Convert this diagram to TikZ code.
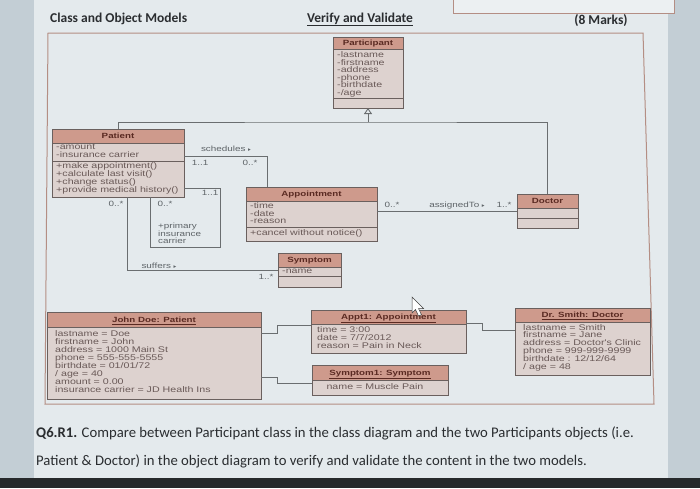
\documentclass[tikz,border=0pt]{standalone}
\usepackage{fontspec}
\setmainfont{Carlito}
\newfontfamily\umlf[FakeStretch=1.3]{Liberation Sans}
\newfontfamily\symf{DejaVu Sans}
\usetikzlibrary{arrows.meta,calc}
\definecolor{pagebg}{HTML}{E4EAED}
\definecolor{stripc}{HTML}{C3CED5}
\definecolor{darkc}{HTML}{26292B}
\definecolor{framec}{HTML}{B48E84}
\definecolor{hdrc}{HTML}{CE9A8C}
\definecolor{bodyc}{HTML}{DDD2CF}
\definecolor{boxc}{HTML}{6A605E}
\definecolor{hdrt}{HTML}{5A2A22}
\definecolor{attc}{HTML}{6A5A58}
\definecolor{lblc}{HTML}{5E6468}
\definecolor{linkc}{HTML}{6A6E70}
\definecolor{titlec}{HTML}{2A2D30}
\newcommand\tri{{\symf\fontsize{5.5}{6}\selectfont ▸}}
\tikzset{
 boxframe/.style={draw=boxc, line width=0.8pt, inner sep=0pt, outer sep=0pt},
 sepline/.style={draw=boxc, line width=0.7pt},
 att/.style={inner sep=0pt, text=attc, font=\umlf\fontsize{8.2}{8}\selectfont},
 hdr/.style={inner sep=0pt, text=hdrt, font=\umlf\bfseries\fontsize{7.5}{8}\selectfont, anchor=base},
 lbl/.style={inner sep=0pt, text=lblc, font=\umlf\fontsize{7.6}{8}\selectfont, anchor=base},
 link/.style={draw=linkc, line width=0.9pt},
 ttl/.style={inner sep=0pt, text=titlec, font=\bfseries\fontsize{13.5}{15}\selectfont, anchor=base},
 qtext/.style={inner sep=0pt, text=titlec, font=\fontsize{14.7}{16}\selectfont, anchor=base west},
}
\newcommand\umlbox[6]{%
 \fill[bodyc] (#2,#3) rectangle (#4,#5);
 \fill[hdrc] (#2,#3) rectangle (#4,{#3+#6});
 \draw[sepline] (#2,{#3+#6}) -- (#4,{#3+#6});
 \node[boxframe, anchor=north west, minimum width={(#4-#2)*1pt}, minimum height={(#5-#3)*1pt}] (#1) at (#2,#3) {};}
\newcommand\attlines[5]{\foreach \t [count=\i] in {#5} {\node[att, anchor=base west] (#1\i) at (#2,{#3+#4*(\i-1)}) {\t};}}
\begin{document}
\begin{tikzpicture}[x=1pt,y=-1pt]
\useasboundingbox (0,0) rectangle (700,488);
% background
\fill[pagebg] (0,0) rectangle (700,488);
\fill[stripc] (0,0) rectangle (34,478);
\fill[stripc] (668,0) rectangle (700,478);
\fill[darkc] (0,478) rectangle (700,488);
\filldraw[fill=white!30!pagebg, draw=framec, line width=0.6pt] (453,-2) rectangle (674,13);
% titles
\node[ttl, anchor=base west] (t1) at (50,22) {Class and Object Models};
\node[ttl] (t2) at (360,22) {\underline{Verify and Validate}};
\node[ttl] (t3) at (601,24) {(8 Marks)};
% frame
\draw[framec, line width=1pt] (48,33) -- (643,33) -- (654,404) -- (45,404) -- cycle;
% ---------- class diagram ----------
\umlbox{participant}{333}{37}{403}{108}{12}
\draw[sepline] (333,98) -- (403,98);
\node[hdr] (participantH) at (368,45.5) {Participant};
\attlines{pa}{337}{57.5}{7.6}{{-lastname},{-firstname},{-address},{-phone},{-birthdate},{-/age}}

\umlbox{patient}{52}{129}{184}{197}{14}
\draw[sepline] (52,161) -- (184,161);
\node[hdr] (patientH) at (118,138.5) {Patient};
\attlines{pata}{56}{149.8}{7.8}{{-amount},{-insurance carrier}}
\attlines{patm}{56}{168.8}{8}{{+make appointment()},{+calculate last visit()},{+change status()},{+provide medical history()}}

\umlbox{appt}{246}{187}{377}{241}{14}
\draw[sepline] (246,227) -- (377,227);
\node[hdr] (apptH) at (311.5,196.5) {Appointment};
\attlines{appa}{250}{208.8}{7.5}{{-time},{-date},{-reason}}
\node[att, anchor=base west] (appm) at (250,235.5) {+cancel without notice()};

\umlbox{symptom}{278}{253}{341}{287}{14}
\draw[sepline] (278,276) -- (341,276);
\node[hdr] (symptomH) at (309.5,262.5) {Symptom};
\node[att, anchor=base west] (syma) at (282,273.5) {-name};

\umlbox{doctor}{517}{194}{578}{228}{14}
\draw[sepline] (517,218) -- (578,218);
\node[hdr] (doctorH) at (547.5,203.5) {Doctor};

% generalization
\coordinate (gen) at ($(participant.south)+(0,14)$);
\draw[link] (patient.north) |- (gen) -| (doctor.north);
\draw[link, -{Triangle[open, length=6pt, width=8pt]}] (gen) -- (participant.south);

% schedules
\draw[link] ($(patient.north east)+(0,27)$) -| ($(appt.north west)+(21,0)$);
\node[lbl] (schL) at (226,151.5) {schedules \tri};
\node[lbl] (sch1) at (200,165.5) {1..1};
\node[lbl] (sch2) at (250,165.5) {0..*};

% primary insurance carrier loop
\draw[link] ($(patient.north east)+(0,59)$) -| ($(patient.south west)+(168,50)$) -| ($(patient.south west)+(98,0)$);
\node[lbl] (pic1) at (210,195) {1..1};
\node[lbl] (pic2) at (165,206.5) {0..*};
\node[lbl, anchor=base west] (picr) at (158,228.5) {+primary};
\node[lbl, anchor=base west] (picr2) at (158,236) {insurance};
\node[lbl, anchor=base west] (picr3) at (158,243.5) {carrier};

% suffers
\draw[link] ($(patient.south west)+(75,0)$) |- (symptom.west);
\node[lbl] (sufL) at (159,268.5) {suffers \tri};
\node[lbl] (suf1) at (116,206.5) {0..*};
\node[lbl] (suf2) at (266,279.5) {1..*};

% assignedTo
\draw[link] (appt.east |- doctor.west) -- (doctor.west);
\node[lbl] (asL) at (457,207.5) {assignedTo \tri};
\node[lbl] (as1) at (392,207.5) {0..*};
\node[lbl] (as2) at (504,207.5) {1..*};

% ---------- object diagram ----------
\umlbox{jd}{47}{312}{261}{399}{15}
\node[hdr] (jdH) at (154,322.5) {\underline{John Doe: Patient}};
\attlines{jda}{55}{336}{8.05}{{lastname = Doe},{firstname = John},{address = 1000 Main St},{phone = 555-555-5555},{birthdate = 01/01/72},{/ age = 40},{amount = 0.00},{insurance carrier = JD Health Ins}}

\umlbox{appt1}{311}{310}{466}{353}{14}
\node[hdr] (appt1H) at (388.5,319.5) {\underline{Appt1: Appointment}};
\attlines{ap1a}{317}{332.8}{8}{{time = 3:00},{date = 7/7/2012},{reason = Pain in Neck}}

\umlbox{sym1}{312}{365}{448}{395}{15}
\node[hdr] (sym1H) at (380,375.5) {\underline{Symptom1: Symptom}};
\node[att, anchor=base] (sym1a) at (375,389.5) {name = Muscle Pain};

\umlbox{drs}{515}{308}{650}{375}{14}
\node[hdr] (drsH) at (582.5,317.5) {\underline{Dr. Smith: Doctor}};
\attlines{dra}{523}{330}{7.9}{{lastname = Smith},{firstname = Jane},{address = Doctor's Clinic},{phone = 999-999-9999},{birthdate : 12/12/64},{/ age = 48}}

\draw[link] ($(jd.north east)+(0,21)$) -- ++(16,0) |- ($(appt1.north west)+(0,15)$);
\draw[link] ($(appt1.north east)+(0,13)$) -- ++(16,0) |- ($(drs.north west)+(0,22)$);
\draw[link] ($(jd.north east)+(0,65)$) -- ++(16,0) |- ($(sym1.north west)+(0,18)$);

% mouse pointer
\filldraw[fill=white, draw=black!75, line width=0.5pt] (412,297) -- (412,313) -- (415.5,309.5) -- (418.5,316) -- (421.5,314.8) -- (418.5,308.5) -- (423.5,308.5) -- cycle;

% question
\node[qtext] (q1) at (36,437) {\textbf{Q6.R1.} Compare between Participant class in the class diagram and the two Participants objects (i.e.};
\node[qtext] (q2) at (36,465) {Patient \& Doctor) in the object diagram to verify and validate the content in the two models.};
\end{tikzpicture}
\end{document}
